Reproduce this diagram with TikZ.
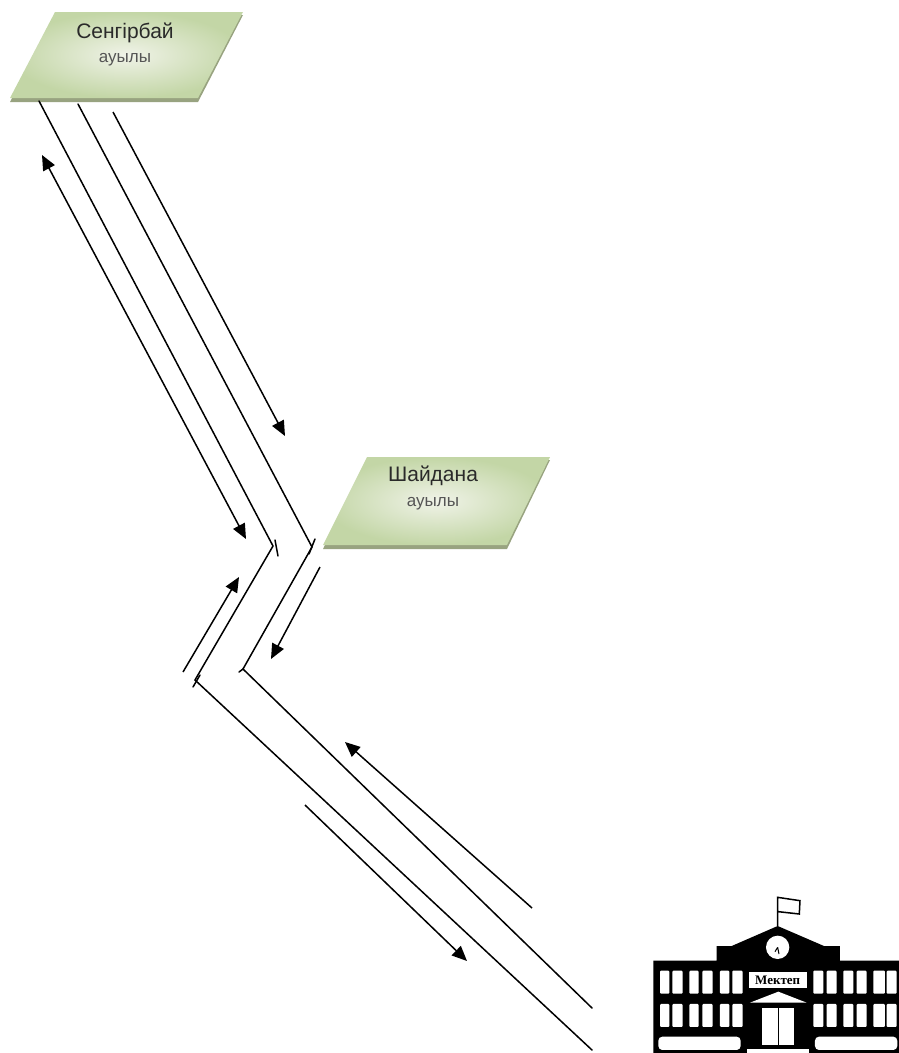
\documentclass[tikz,border=0pt]{standalone}
\usepackage{fontspec}
\setmainfont{Liberation Sans}
\newfontfamily\signfont{Liberation Serif}
\usetikzlibrary{arrows.meta}
\definecolor{plateout}{HTML}{C3D6A6}
\definecolor{platein}{HTML}{F0F3E8}
\definecolor{plateshadow}{HTML}{98A380}
\definecolor{inktext}{HTML}{2A2A2A}
\tikzset{
  road/.style={line width=1.5pt,black,line cap=round},
  dirarrow/.style={line width=1.5pt,black,-{Triangle[length=15pt,width=13pt]}},
  bothways/.style={line width=1.5pt,black,{Triangle[length=15pt,width=13pt]}-{Triangle[length=15pt,width=13pt]}},
  platetitle/.style={font=\fontsize{21}{24}\selectfont,text=inktext,inner sep=0pt},
  platesub/.style={font=\fontsize{17}{20}\selectfont,text=inktext!80,inner sep=0pt},
  win/.style={fill=white,draw=none,rounded corners=1pt},
}
\begin{document}
\begin{tikzpicture}[x=1pt,y=-1pt]
\useasboundingbox (0,0) rectangle (899,1053);
% plates
\fill[plateshadow] (55,15) -- (243,15) -- (198,102) -- (10,102) -- cycle;
\shade[inner color=platein,outer color=plateout] (55,12) -- (243,12) -- (198,98) -- (10,98) -- cycle;
\fill[plateshadow] (367,460) -- (550,460) -- (507,549) -- (323,549) -- cycle;
\shade[inner color=platein,outer color=plateout] (367,457) -- (550,457) -- (507,545) -- (323,545) -- cycle;
\node[platetitle] (t1) at (125,33) {Сенгірбай};
\node[platesub] (s1) at (125,60) {ауылы};
\node[platetitle] (t2) at (433,476) {Шайдана};
\node[platesub] (s2) at (433,504) {ауылы};
% coordinates
\coordinate (a1) at (39,101);
\coordinate (a2) at (273,546);
\coordinate (b1) at (78,104);
\coordinate (b2) at (312,547);
\coordinate (c1) at (195,680);
\coordinate (d1) at (243,669);
\coordinate (e1) at (592,1050);
\coordinate (f1) at (592,1008);
\coordinate (g1) at (113,112);
\coordinate (g2) at (285,436);
\coordinate (h1) at (246,539);
\coordinate (h2) at (42,155);
\coordinate (i1) at (320,567);
\coordinate (i2) at (271,659);
\coordinate (j1) at (183,672);
\coordinate (j2) at (239,577);
\coordinate (k1) at (532,908);
\coordinate (k2) at (345,742);
\coordinate (l1) at (305,805);
\coordinate (l2) at (467,961);
\coordinate (m1) at (275,540);
\coordinate (m2) at (278,556);
\coordinate (n1) at (315,539);
\coordinate (n2) at (309,554);
\coordinate (o1) at (193,687);
\coordinate (o2) at (200,675);
\coordinate (p1) at (239,672);
% roads
\draw[road] (a1) -- (a2) -- (c1) -- (e1);
\draw[road] (b1) -- (b2) -- (d1) -- (f1);
\draw[road] (m1) -- (m2);
\draw[road] (n1) -- (n2);
\draw[road] (o1) -- (o2);
\draw[road] (p1) -- (d1);
% arrows
\draw[dirarrow] (g1) -- (g2);
\draw[bothways] (h1) -- (h2);
\draw[dirarrow] (i1) -- (i2);
\draw[dirarrow] (j1) -- (j2);
\draw[dirarrow] (k1) -- (k2);
\draw[dirarrow] (l1) -- (l2);
% school
\begin{scope}[shift={(640,880)},x=0.3333pt,y=-0.3333pt]
\clip (0,0) rectangle (777,519);
\draw[line width=1.5pt] (413,138) -- (413,52) -- (480,62) -- (478,102) -- (415,95);
\fill[black] (40,519) -- (40,242) -- (230,242) -- (230,198) -- (275,198) -- (413,138) -- (552,198) -- (600,198) -- (600,242) -- (777,242) -- (777,519) -- cycle;
\fill[white] (413,202) circle (35);
\draw[line width=1pt] (413,202) -- (405,215) (413,202) -- (417,222);
\foreach \yy in {272,372}{
  \foreach \xa/\xb in {60/88,97/128,148/176,187/218,240/268,277/308,520/550,560/590,610/640,650/680,700/735,740/770}{
    \fill[win] (\xa,\yy) rectangle (\xb,\yy+69);
  }
}
\fill[white] (328,275) rectangle (502,325);
\node[inner sep=0pt,font=\signfont\bfseries\fontsize{13}{14}\selectfont] (sign) at (413,301) {Мектеп};
\fill[white] (330,368) -- (415,335) -- (500,368) -- cycle;
\fill[white] (367,385) rectangle (462,495);
\draw[line width=1pt] (415,385) -- (415,495);
\fill[win,rounded corners=4pt] (55,470) rectangle (302,510);
\fill[win,rounded corners=4pt] (525,470) rectangle (772,510);
\fill[white] (320,508) rectangle (508,519);
\end{scope}
\end{tikzpicture}
\end{document}
